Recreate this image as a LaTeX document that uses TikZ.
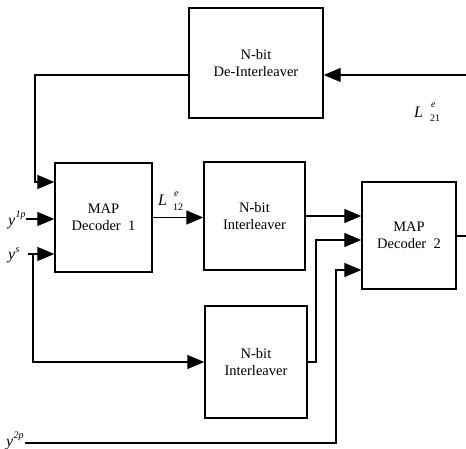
\documentclass[tikz,border=0pt]{standalone}
\usepackage{amsmath}
\usepackage{fontspec}
\setmainfont{Liberation Serif}
\usetikzlibrary{arrows.meta}

\begin{document}
\begin{tikzpicture}[x=1pt,y=-1pt,
    blk/.style={draw, line width=1.4pt, minimum width=#1, align=center, font=\fontsize{14.5}{16.5}\selectfont, inner sep=0pt},
    arr/.style={line width=1.2pt, -{Triangle[length=17pt,width=14pt]}},
    lbl/.style={font=\fontsize{16}{18}\selectfont, inner sep=0pt},
    sml/.style={font=\fontsize{10}{11}\selectfont\itshape, inner sep=0pt}]
    \useasboundingbox (0,0) rectangle (466,449);

        % Blocks
        \node[blk=134pt, minimum height=110pt] (deint) at (256,63) {N-bit\\De-Interleaver};
        \node[blk=97pt, minimum height=109pt] (mapA) at (103.5,217.5) {MAP\\Decoder\ \ 1};
        \node[blk=101pt, minimum height=108pt] (intA) at (254.5,216) {N-bit\\Interleaver};
        \node[blk=94pt, minimum height=107pt] (mapB) at (409,235.5) {MAP\\Decoder\ \ 2};
        \node[blk=102pt, minimum height=112pt] (intB) at (256,362) {N-bit\\Interleaver};

        % Free ends
        \coordinate (fbin) at (466,75);
        \coordinate (yonep) at (26,219);
        \coordinate (ysys) at (28,254);
        \coordinate (ytwop) at (25,443);
        \coordinate (outB) at (466,236);

        % Feedback path
        \draw[arr] (fbin) -- (fbin -| deint.east);
        \draw[arr] (fbin -| deint.west) -| (35,182) -- (mapA.west |- 35,182);

        % Inputs of decoder 1
        \draw[arr] (yonep) -- (mapA.west |- yonep);
        \draw[arr] (ysys) -- (mapA.west |- ysys);
        \draw[arr] (33,254) |- (intB.west);

        % Decoder 1 to decoder 2
        \draw[arr] (mapA.east) -- (mapA.east -| intA.west);
        \draw[arr] (intA.east) -- (intA.east -| mapB.west);
        \draw[arr] (intB.east) -| (316,240) -- (mapB.west |- 316,240);
        \draw[arr] (ytwop) -| (336,270) -- (mapB.west |- 336,270);
        \draw[line width=1.2pt] (mapB.east |- outB) -- (outB);

        % Labels
        \node[lbl, anchor=base west] (lyonep) at (8,226) {\textit{y}};
        \node[sml, anchor=base west] (lyonepsup) at (lyonep.base east) [yshift=8pt] {1p};
        \node[lbl, anchor=base west] (lysys) at (8,260) {\textit{y}};
        \node[sml, anchor=base west] (lysyssup) at (lysys.base east) [yshift=7pt] {s};
        \node[lbl, anchor=base west] (lytwop) at (6,446) {\textit{y}};
        \node[sml, anchor=base west] (lytwopsup) at (lytwop.base east) [yshift=8pt] {2p};
        \node[lbl, anchor=base west] (lLa) at (158,206) {\textit{L}};
        \node[sml, anchor=base west] (lLasup) at (174,197) {e};
        \node[sml, anchor=base west] (lLasub) at (173,211) {\upshape 12};
        \node[lbl, anchor=base west] (lLb) at (414,118) {\textit{L}};
        \node[sml, anchor=base west] (lLbsup) at (431,108) {e};
        \node[sml, anchor=base west] (lLbsub) at (430,122) {\upshape 21};
    \end{tikzpicture}
\end{document}
